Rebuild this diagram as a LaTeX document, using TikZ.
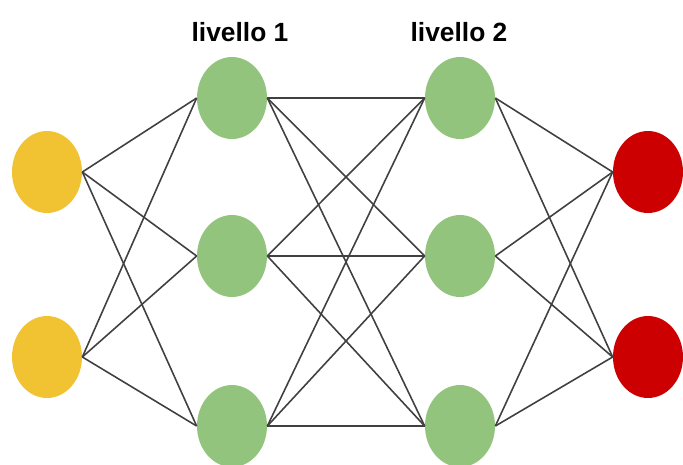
\documentclass[tikz,border=0pt]{standalone}
\usepackage{fontspec}
\setsansfont{Liberation Sans}
\usetikzlibrary{shapes.geometric}
\definecolor{inyellow}{HTML}{F1C232}
\definecolor{hidgreen}{HTML}{93C47D}
\definecolor{outred}{HTML}{CC0000}
\begin{document}
\begin{tikzpicture}[x=0.02cm,y=-0.02cm]
	\tikzset{neuron/.style={ellipse,inner sep=0pt,minimum width=1.4cm,minimum height=1.64cm},
		link/.style={draw=black!75,line width=0.9pt},
		lbl/.style={font=\sffamily\bfseries\fontsize{15}{18}\selectfont}}
	\def\xa{232} \def\xb{460}% hidden layers
	\useasboundingbox (0,0) rectangle (683,464);
	\node[lbl] (lab1) at (240,32) {livello 1};
	\node[lbl] (lab2) at (459,32) {livello 2};
	% input and output
	\node[neuron,fill=inyellow] (in1) at (47,172) {};
	\node[neuron,fill=inyellow] (in2) at (47,357) {};
	\node[neuron,fill=outred] (out1) at (648,172) {};
	\node[neuron,fill=outred] (out2) at (648,357) {};
	% hidden layers
	\foreach \j/\y in {1/98,2/256,3/426} {
		\node[neuron,fill=hidgreen] (a\j) at (\xa,\y) {};
		\node[neuron,fill=hidgreen] (b\j) at (\xb,\y) {};
	}
	\foreach \i in {1,2}
		\foreach \j in {1,2,3} {
			\draw[link] (in\i.east) -- (a\j.west);
			\draw[link] (b\j.east) -- (out\i.west);
		}
	\foreach \i in {1,2,3}
		\foreach \j in {1,2,3}
			\draw[link] (a\i.east) -- (b\j.west);
\end{tikzpicture}
\end{document}
